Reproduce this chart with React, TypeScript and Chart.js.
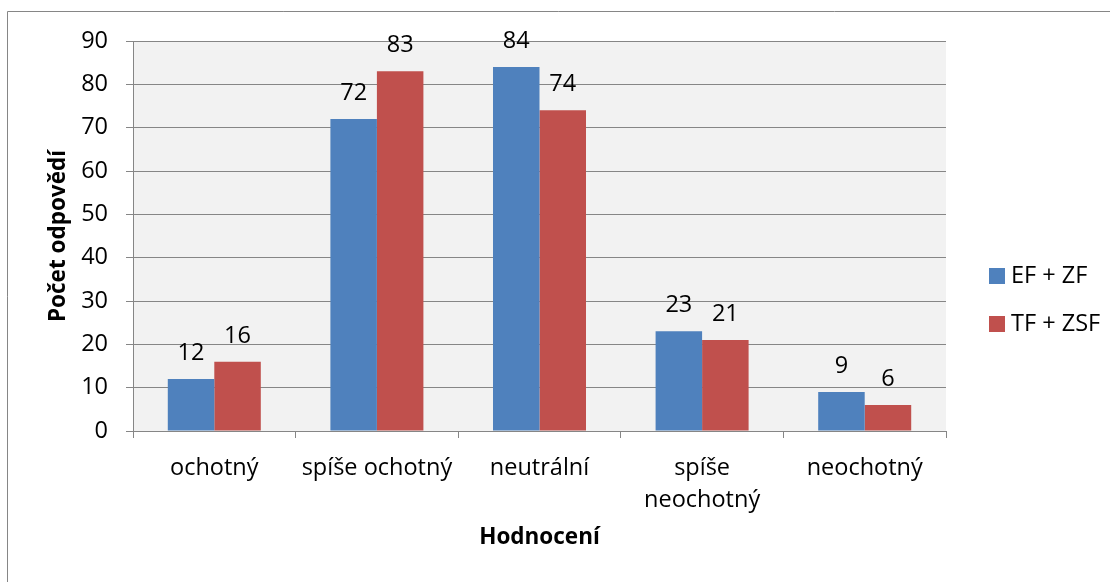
import React, { useEffect, useRef } from "react";
import { Chart, registerables } from "chart.js";

Chart.register(...registerables);

const categories: (string | string[])[] = [
  "ochotný",
  "spíše ochotný",
  "neutrální",
  ["spíše", "neochotný"],
  "neochotný",
];
const seriesNames = ["EF + ZF", "TF + ZSF"];
const efZf = [12, 72, 84, 23, 9];
const tfZsf = [16, 83, 74, 21, 6];
const seriesColors = ["#4F81BD", "#C0504D"];
const yTitle = "Počet odpovědí";
const xTitle = "Hodnocení";

const FONT = "'Open Sans', sans-serif";
const GRID = "#868686";
const FS = 23.5;

const decor = {
  id: "decor",
  beforeDraw(chart: any) {
    const { ctx, chartArea } = chart;
    ctx.save();
    ctx.fillStyle = "#F2F2F2";
    ctx.fillRect(chartArea.left, chartArea.top, chartArea.right - chartArea.left, chartArea.bottom - chartArea.top);
    ctx.restore();
  },
  afterDraw(chart: any) {
    const { ctx, chartArea } = chart;
    ctx.save();
    // outer frame
    ctx.strokeStyle = GRID;
    ctx.lineWidth = 1;
    ctx.beginPath();
    ctx.moveTo(7.5, 582);
    ctx.lineTo(7.5, 11.5);
    ctx.lineTo(1110, 11.5);
    ctx.stroke();

    // data labels
    ctx.fillStyle = "#000";
    ctx.font = `${FS}px ${FONT}`;
    ctx.textAlign = "center";
    ctx.textBaseline = "alphabetic";
    chart.data.datasets.forEach((ds: any, i: number) => {
      const meta = chart.getDatasetMeta(i);
      meta.data.forEach((bar: any, j: number) => {
        ctx.fillText(String(ds.data[j]), bar.x, bar.y - 19);
      });
    });

    // axis titles
    ctx.font = `bold 22.5px ${FONT}`;
    ctx.textBaseline = "middle";
    ctx.fillText(xTitle, (chartArea.left + chartArea.right) / 2, 538);
    ctx.save();
    ctx.translate(59, (chartArea.top + chartArea.bottom) / 2);
    ctx.rotate(-Math.PI / 2);
    ctx.fillText(yTitle, 0, 0);
    ctx.restore();

    // legend
    ctx.font = `${FS}px ${FONT}`;
    ctx.textAlign = "left";
    chart.data.datasets.forEach((ds: any, i: number) => {
      const y = 268 + i * 48;
      ctx.fillStyle = ds.backgroundColor;
      ctx.fillRect(989, y, 16, 16);
      ctx.fillStyle = "#000";
      ctx.fillText(ds.label, 1011, y + 8);
    });
    ctx.restore();
  },
};

export default function App() {
  const ref = useRef<HTMLCanvasElement>(null);
  useEffect(() => {
    if (!ref.current) return;
    const chart = new Chart(ref.current, {
      type: "bar",
      data: {
        labels: categories,
        datasets: [
          { label: seriesNames[0], data: efZf, backgroundColor: seriesColors[0] },
          { label: seriesNames[1], data: tfZsf, backgroundColor: seriesColors[1] },
        ],
      },
      options: {
        responsive: false,
        animation: false,
        devicePixelRatio: 1,
        layout: { padding: { left: 0, top: 41, right: 164, bottom: 0 } },
        datasets: { bar: { categoryPercentage: 0.572, barPercentage: 1 } },
        plugins: { legend: { display: false }, tooltip: { enabled: false } },
        scales: {
          x: {
            grid: { drawOnChartArea: false, drawTicks: true, tickLength: 7, color: GRID, offset: true },
            border: { display: true, color: GRID },
            ticks: { color: "#000", font: { family: FONT, size: FS, lineHeight: 1.38 }, padding: 14, maxRotation: 0, autoSkip: false },
            afterFit: (s: any) => { s.height = 151; },
          },
          y: {
            min: 0,
            max: 90,
            ticks: { stepSize: 10, color: "#000", font: { family: FONT, size: FS }, padding: 18 },
            grid: { color: GRID, tickLength: 7, drawTicks: true },
            border: { display: true, color: GRID },
            afterFit: (s: any) => { s.width = 133; },
          },
        },
      },
      plugins: [decor],
    });
    return () => chart.destroy();
  }, []);
  return (
    <canvas
      ref={ref}
      width={1110}
      height={582}
      style={{ position: "absolute", left: 0, top: 0, width: 1110, height: 582 }}
    />
  );
}
